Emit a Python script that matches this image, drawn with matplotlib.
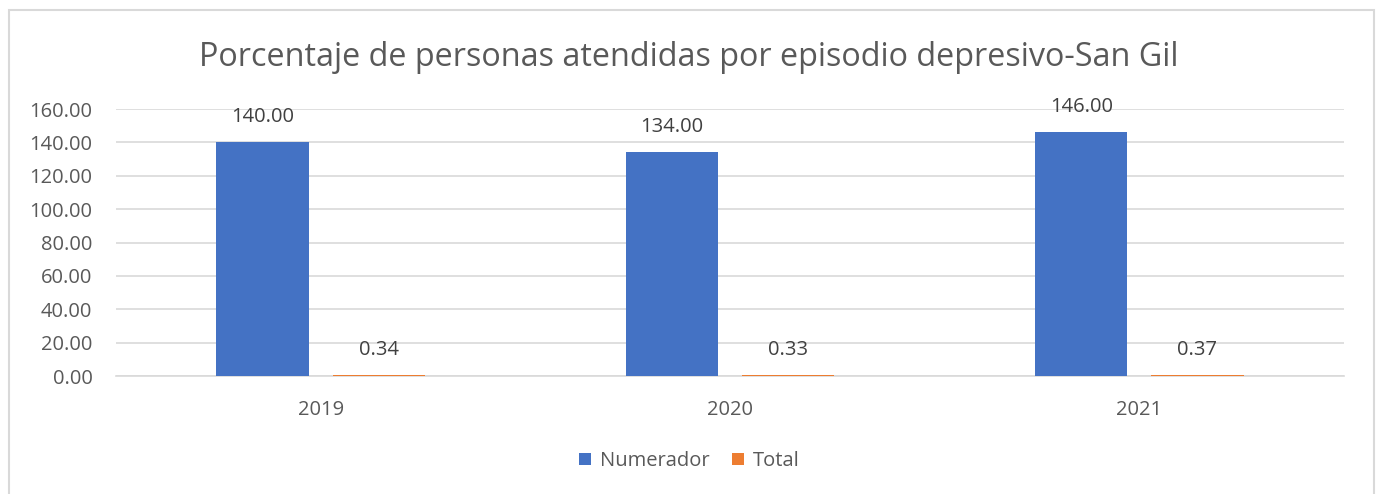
import numpy as np
import matplotlib.pyplot as plt
from matplotlib.patches import Rectangle

years = ["2019", "2020", "2021"]
numerador = [140.00, 134.00, 146.00]
total = [0.34, 0.33, 0.37]

azul = "#4472C4"
naranja = "#ED7D31"
gris = "#595959"

plt.rcParams['font.family'] = ['Open Sans', 'DejaVu Sans']

fig = plt.figure(figsize=(13.78, 4.94), dpi=100)
ax = fig.add_axes([116/1378, 1-376/494, (1344-116)/1378, (376-109)/494])

# marco del grafico
W, H = 1378, 494
fig.patches.append(Rectangle((9/W, -0.1), (1374-9)/W, 1.1 - 10/H, transform=fig.transFigure,
                             fill=False, edgecolor="#D9D9D9", linewidth=1.5))

x = np.arange(len(years))
ancho = 0.225
sep = 0.142
b1 = ax.bar(x - sep, numerador, ancho, color=azul, label="Numerador", zorder=3)
b2 = ax.bar(x + sep, total, ancho, color=naranja, label="Total", zorder=3)

for barras, vals in [(b1, numerador), (b2, total)]:
    for rect, v in zip(barras, vals):
        ax.annotate(f"{v:.2f}", (rect.get_x() + rect.get_width()/2, v), xytext=(0, 18.5),
                    textcoords="offset points", ha="center", va="center",
                    fontsize=14.5, color="#404040")

ax.set_xlim(-0.5, 2.5)
ax.set_ylim(0, 160)
ax.set_yticks(np.arange(0, 161, 20))
ax.set_yticklabels([f"{t:.2f}" for t in np.arange(0, 161, 20)])
ax.set_xticks(x)
ax.set_xticklabels(years)
ax.tick_params(axis="both", length=0, labelsize=14.5, colors=gris)
ax.tick_params(axis="y", pad=17)
ax.tick_params(axis="x", pad=17)
ax.grid(axis="y", color="#D9D9D9", linewidth=1.2, zorder=0)
for s in ["top", "right", "left"]:
    ax.spines[s].set_visible(False)
ax.spines["bottom"].set_color("#D9D9D9")
ax.spines["bottom"].set_linewidth(1.2)

fig.text(0.5, 1-57/494, "Porcentaje de personas atendidas por episodio depresivo-San Gil",
         ha="center", va="center", fontsize=23.3, color=gris)

fig.legend(loc="center", bbox_to_anchor=(0.5, 1-461/494), ncol=2, frameon=False,
           fontsize=14.5, labelcolor=gris, handlelength=0.6, handleheight=0.6,
           handletextpad=0.45, columnspacing=1.1)

fig.savefig("out.png", dpi=100)
